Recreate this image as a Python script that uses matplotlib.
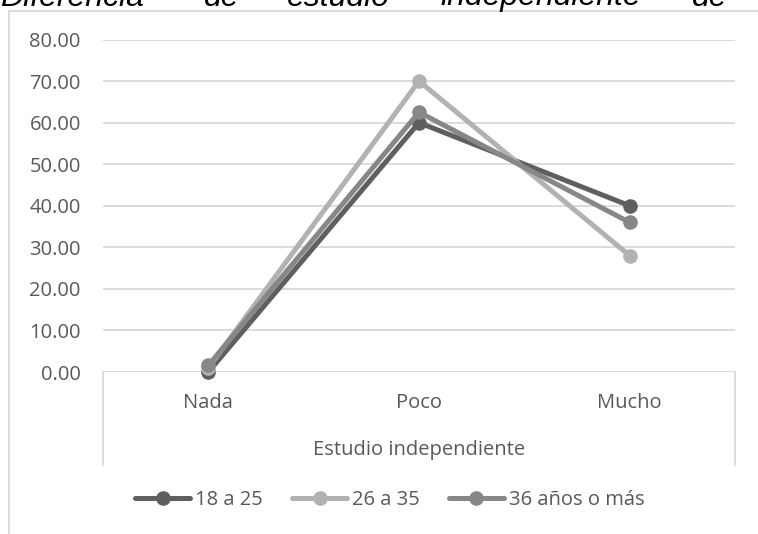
import matplotlib
matplotlib.use("Agg")
import matplotlib.pyplot as plt
from matplotlib.lines import Line2D

categories = ["Nada", "Poco", "Mucho"]
series_names = ["18 a 25", "26 a 35", "36 años o más"]
vals_18_25 = [0.0, 60.0, 40.0]
vals_26_35 = [1.0, 70.0, 28.0]
vals_36_mas = [1.6, 62.5, 36.0]
series_colors = ["#5f5f5f", "#b2b2b2", "#878787"]
y_ticks = [0, 10, 20, 30, 40, 50, 60, 70, 80]
axis_title = "Estudio independiente"
title_words = ["Diferencia", "de", "estudio", "independiente", "de"]

W, H = 758, 534
fig = plt.figure(figsize=(W / 100, H / 100), dpi=100)
FONT = ["Open Sans", "DejaVu Sans"]
FS = 14.5
TXT = "#595959"
GRID = "#d9d9d9"

def fx(px):
    return px / W

def fy(py):
    return 1 - py / H

# plot area
x0, x1, y_top, y_bot = 103, 735, 39.5, 372
ax = fig.add_axes([fx(x0), fy(y_bot), fx(x1) - fx(x0), fy(y_top) - fy(y_bot)])
ax.set_xlim(-0.5, len(categories) - 0.5)
ax.set_ylim(0, 80)
for s in ax.spines.values():
    s.set_visible(False)
ax.set_yticks(y_ticks)
ax.set_yticklabels([f"{v:.2f}" for v in y_ticks], fontfamily=FONT, fontsize=FS, color=TXT)
ax.tick_params(axis="y", length=0, pad=16)
ax.set_xticks([])
ax.yaxis.grid(True, color=GRID, linewidth=1.3)
ax.set_axisbelow(True)

xs = list(range(len(categories)))
for vals, name, col in zip([vals_18_25, vals_26_35, vals_36_mas], series_names, series_colors):
    ax.plot(xs, vals, color=col, linewidth=3.6, marker="o", markersize=9.5,
            label=name, clip_on=False, zorder=3, solid_capstyle="round")

# category axis box and labels
trans = ax.get_xaxis_transform()
span = y_bot - y_top
box_bottom = -(465 - y_bot) / span
for xe in (-0.5, len(categories) - 0.5):
    ax.plot([xe, xe], [0, box_bottom], transform=trans, color=GRID, linewidth=1.3, clip_on=False)
for i, c in enumerate(categories):
    ax.text(i, -(403 - y_bot) / span, c, transform=trans, ha="center", va="center",
            fontfamily=FONT, fontsize=FS, color=TXT)
ax.text(1, -(450 - y_bot) / span, axis_title, transform=trans, ha="center", va="center",
        fontfamily=FONT, fontsize=FS, color=TXT)

# legend
leg = fig.legend(loc="center", bbox_to_anchor=(fx(390), fy(500)), ncol=3, frameon=False,
                 prop={"family": FONT, "size": FS}, handlelength=2.73, handletextpad=0.25,
                 columnspacing=1.44, labelcolor=TXT)

# chart frame
fig.add_artist(Line2D([fx(9), 1.0], [fy(11), fy(11)], color=GRID, linewidth=1.3))
fig.add_artist(Line2D([fx(9), fx(9)], [fy(11), 0.0], color=GRID, linewidth=1.3))

# heading above the chart, justified across the page width
word_x = [0, 204, 287, 440, 692]
for wx, w in zip(word_x, title_words):
    fig.text(fx(wx), fy(5.5), w, ha="left", va="baseline", fontfamily=["Liberation Sans", "DejaVu Sans"],
             fontsize=23, style="italic", color="#000000")

fig.savefig("out.png", dpi=100)
